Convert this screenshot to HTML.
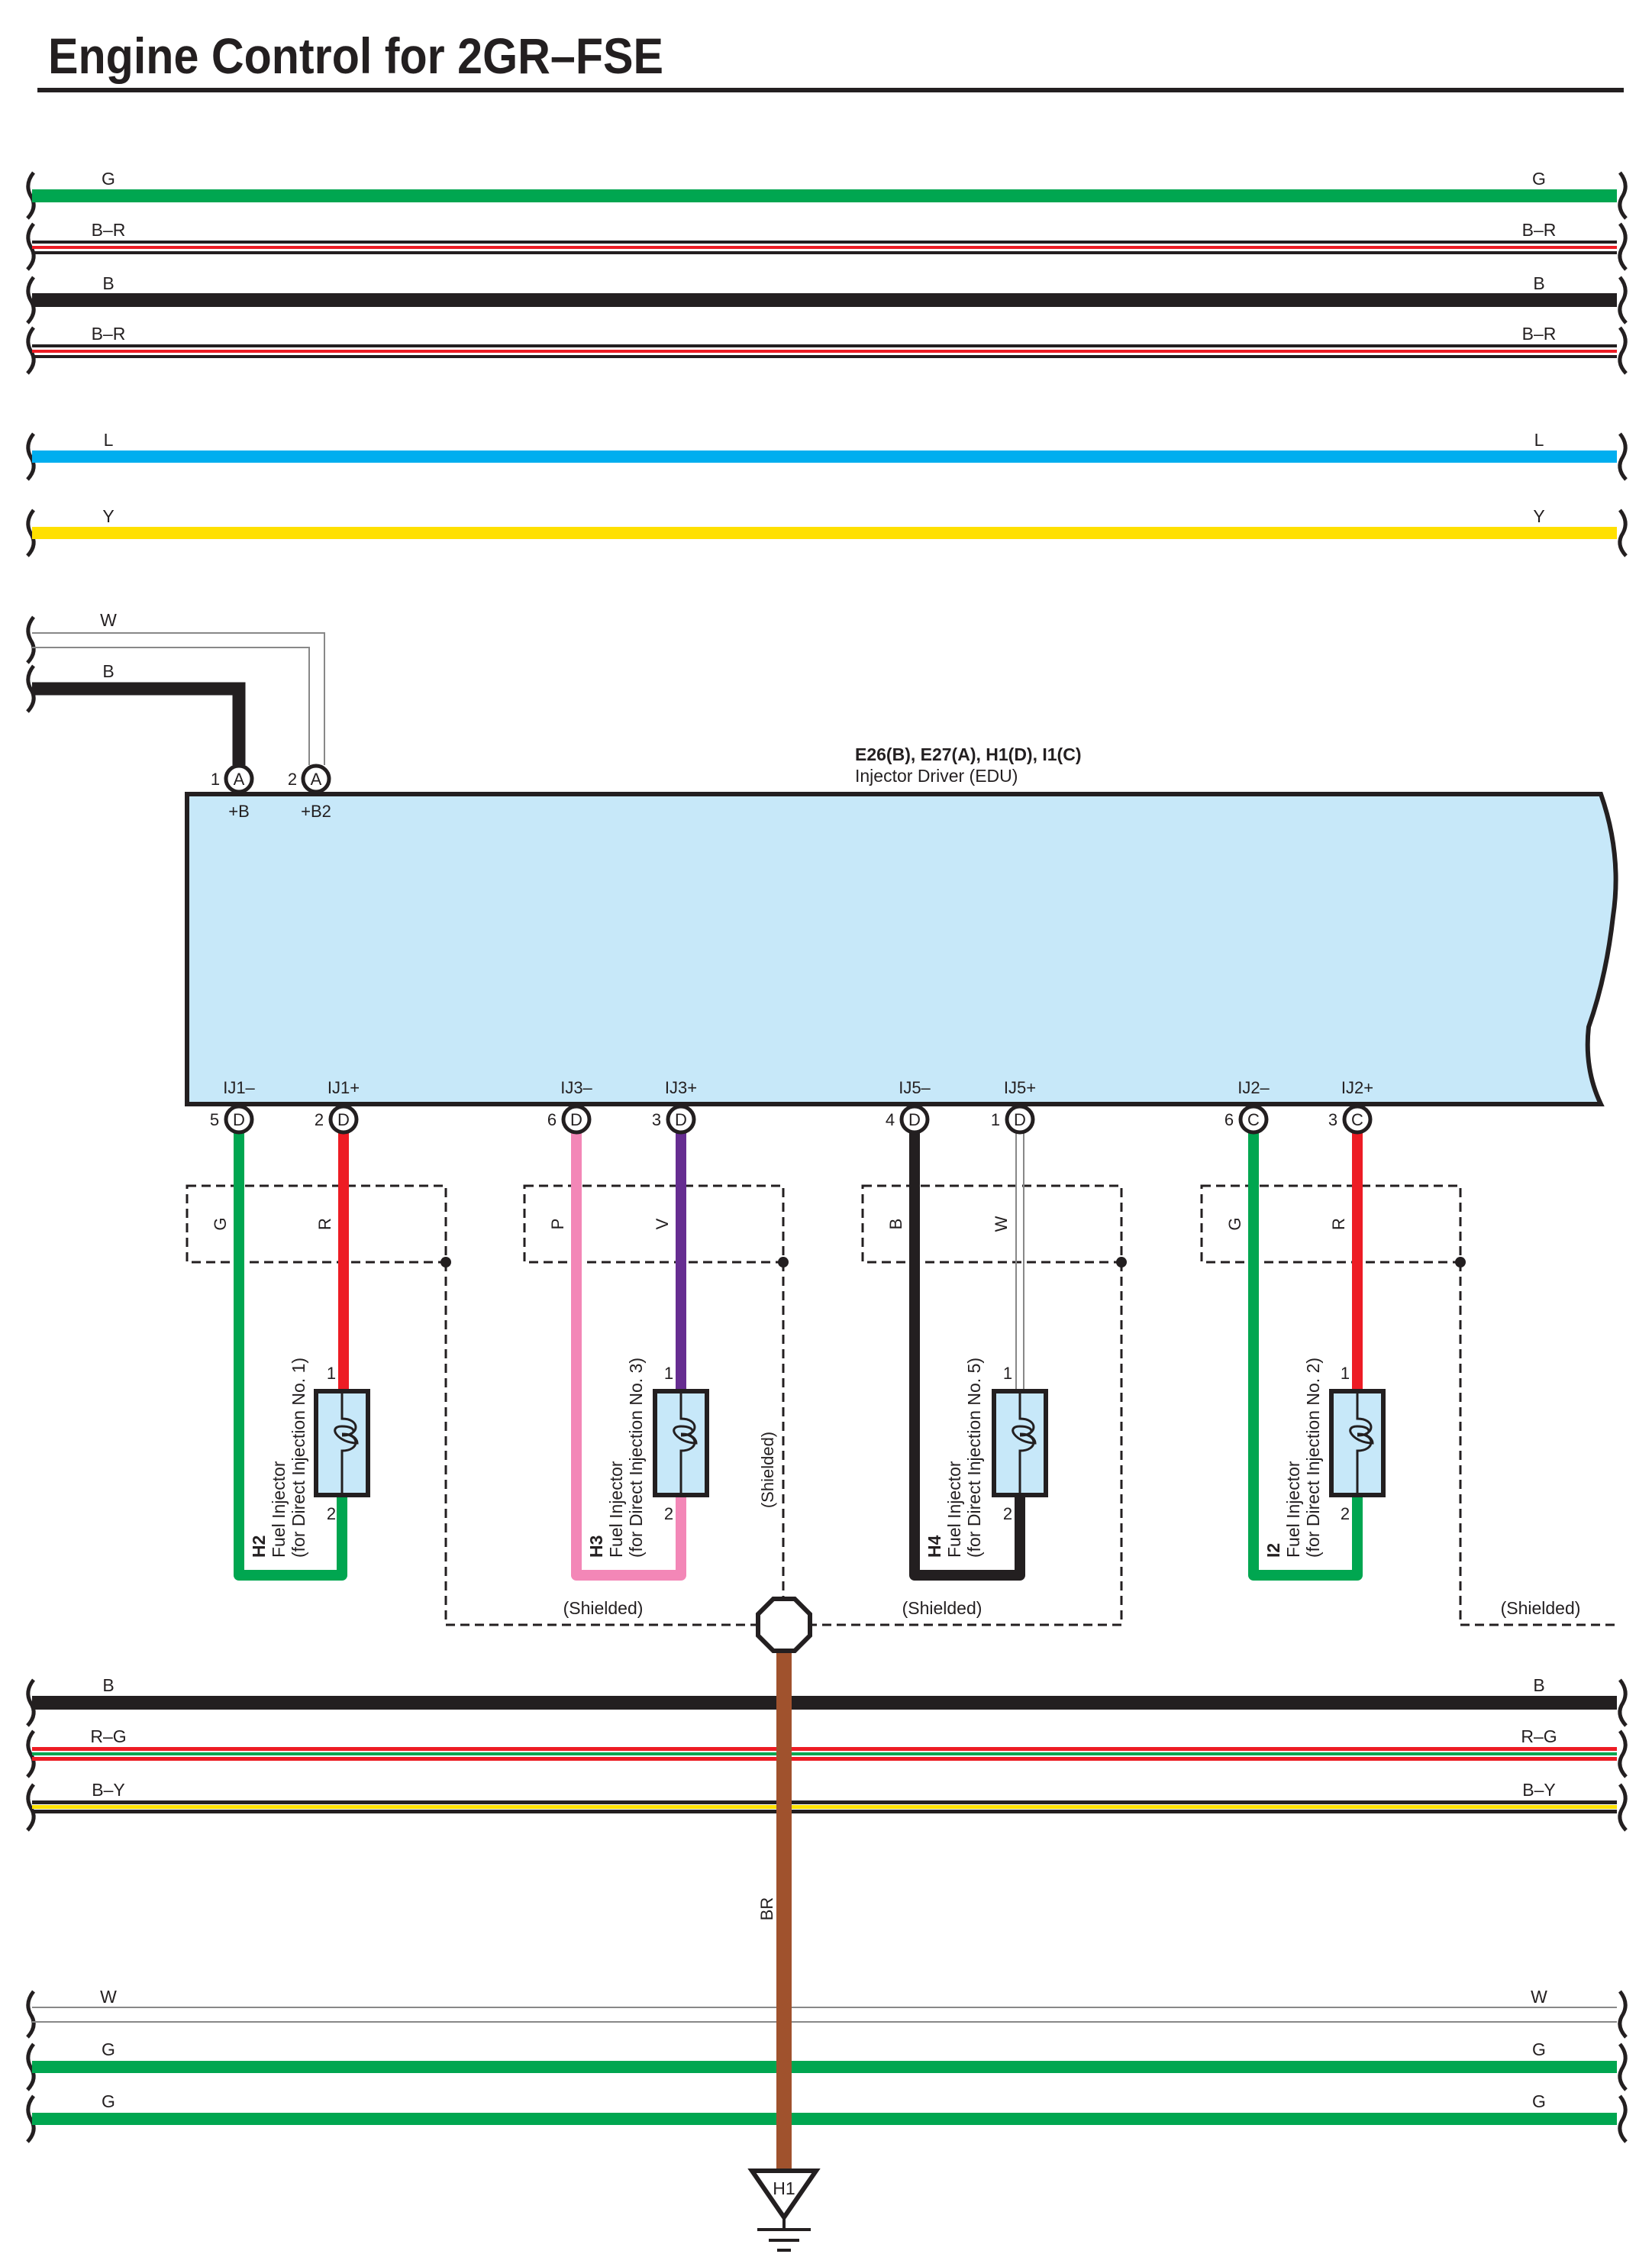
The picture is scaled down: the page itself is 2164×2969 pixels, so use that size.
<!DOCTYPE html>
<html><head><meta charset="utf-8"><style>html,body{margin:0;padding:0;background:#fff}svg{display:block}text{font-family:"Liberation Sans",Arial,sans-serif;fill:#231f20}</style></head><body>
<svg width="2164" height="2969" viewBox="0 0 2164 2969" xmlns="http://www.w3.org/2000/svg">
<text x="63" y="96" font-size="66" font-weight="bold" textLength="806" lengthAdjust="spacingAndGlyphs">Engine Control for 2GR–FSE</text>
<rect x="49" y="115" width="2078" height="6" fill="#231f20"/>
<g id="brk" fill="none" stroke="#231f20" stroke-width="5">
<path d="M44 226 q-12 15 -4 30 q10 15 -4 30"/><path d="M2122 226 q12 15 4 30 q-10 15 4 30"/>
<path d="M44 293 q-12 15 -4 30 q10 15 -4 30"/><path d="M2122 293 q12 15 4 30 q-10 15 4 30"/>
<path d="M44 363 q-12 15 -4 30 q10 15 -4 30"/><path d="M2122 363 q12 15 4 30 q-10 15 4 30"/>
<path d="M44 429 q-12 15 -4 30 q10 15 -4 30"/><path d="M2122 429 q12 15 4 30 q-10 15 4 30"/>
<path d="M44 568 q-12 15 -4 30 q10 15 -4 30"/><path d="M2122 568 q12 15 4 30 q-10 15 4 30"/>
<path d="M44 668 q-12 15 -4 30 q10 15 -4 30"/><path d="M2122 668 q12 15 4 30 q-10 15 4 30"/>
<path d="M44 808 q-12 15 -4 30 q10 15 -4 30"/>
<path d="M44 872 q-12 15 -4 30 q10 15 -4 30"/>
<path d="M44 2200 q-12 15 -4 30 q10 15 -4 30"/><path d="M2122 2200 q12 15 4 30 q-10 15 4 30"/>
<path d="M44 2267 q-12 15 -4 30 q10 15 -4 30"/><path d="M2122 2267 q12 15 4 30 q-10 15 4 30"/>
<path d="M44 2337 q-12 15 -4 30 q10 15 -4 30"/><path d="M2122 2337 q12 15 4 30 q-10 15 4 30"/>
<path d="M44 2608 q-12 15 -4 30 q10 15 -4 30"/><path d="M2122 2608 q12 15 4 30 q-10 15 4 30"/>
<path d="M44 2677 q-12 15 -4 30 q10 15 -4 30"/><path d="M2122 2677 q12 15 4 30 q-10 15 4 30"/>
<path d="M44 2745 q-12 15 -4 30 q10 15 -4 30"/><path d="M2122 2745 q12 15 4 30 q-10 15 4 30"/>
</g>
<!-- top wires -->
<rect x="42" y="248" width="2076" height="17" fill="#00a650"/>
<g><rect x="42" y="315" width="2076" height="4" fill="#231f20"/><rect x="42" y="322" width="2076" height="4" fill="#ed1c24"/><rect x="42" y="329" width="2076" height="4" fill="#231f20"/></g>
<rect x="42" y="384" width="2076" height="18" fill="#231f20"/>
<g><rect x="42" y="451" width="2076" height="4" fill="#231f20"/><rect x="42" y="458" width="2076" height="4" fill="#ed1c24"/><rect x="42" y="465" width="2076" height="4" fill="#231f20"/></g>
<rect x="42" y="590" width="2076" height="16" fill="#00aeef"/>
<rect x="42" y="690" width="2076" height="16" fill="#ffe000"/>
<g font-size="23" text-anchor="middle">
<text x="142" y="242">G</text><text x="2016" y="242">G</text>
<text x="142" y="309">B–R</text><text x="2016" y="309">B–R</text>
<text x="142" y="379">B</text><text x="2016" y="379">B</text>
<text x="142" y="445">B–R</text><text x="2016" y="445">B–R</text>
<text x="142" y="584">L</text><text x="2016" y="584">L</text>
<text x="142" y="684">Y</text><text x="2016" y="684">Y</text>
<text x="142" y="820">W</text><text x="142" y="887">B</text>
</g>
<!-- W and B into EDU -->
<path d="M42 829 H425 V1002 M42 848 H405 V1002" fill="none" stroke="#888" stroke-width="2"/>
<path d="M42 902 H313 V1002" fill="none" stroke="#231f20" stroke-width="17"/>
<!-- EDU -->
<path d="M245 1040 H2097 Q2125 1120 2113 1200 Q2104 1280 2081 1345 Q2075 1400 2097 1446 H245 Z" fill="#c7e8f9" stroke="#231f20" stroke-width="6"/>
<text x="1120" y="996" font-size="23" font-weight="bold">E26(B), E27(A), H1(D), I1(C)</text>
<text x="1120" y="1024" font-size="23">Injector Driver (EDU)</text>
<g font-size="22">
<circle cx="313" cy="1020" r="17" fill="#fff" stroke="#231f20" stroke-width="5"/><text x="313" y="1028" text-anchor="middle">A</text><text x="282" y="1028" text-anchor="middle">1</text><text x="313" y="1070" text-anchor="middle">+B</text>
<circle cx="414" cy="1020" r="17" fill="#fff" stroke="#231f20" stroke-width="5"/><text x="414" y="1028" text-anchor="middle">A</text><text x="383" y="1028" text-anchor="middle">2</text><text x="414" y="1070" text-anchor="middle">+B2</text>
</g>
<!-- shield dashed -->
<g fill="none" stroke="#231f20" stroke-width="3" stroke-dasharray="12,7">
<path d="M245 1553 H584 V1653 H245 Z"/><path d="M584 1653 V2128 H992"/>
<path d="M687 1553 H1026 V1653 H687 Z"/><path d="M1026 1653 V2094"/>
<path d="M1130 1553 H1469 V1653 H1130 Z"/><path d="M1469 1653 V2128 H1062"/>
<path d="M1574 1553 H1913 V1653 H1574 Z"/><path d="M1913 1653 V2128 H2118"/>
</g>
<g fill="#231f20"><circle cx="584" cy="1653" r="7"/><circle cx="1026" cy="1653" r="7"/><circle cx="1469" cy="1653" r="7"/><circle cx="1913" cy="1653" r="7"/></g>
<!-- injector wires -->
<g fill="none" stroke-width="14" stroke-linejoin="round">
<path d="M313 1480 V2063 H448 V1950" stroke="#00a650"/><path d="M450 1480 V1825" stroke="#ed1c24"/>
<path d="M755 1480 V2063 H892 V1950" stroke="#f387b7"/><path d="M892 1480 V1825" stroke="#662d91"/>
<path d="M1198 1480 V2063 H1336 V1950" stroke="#231f20"/>
<path d="M1642 1480 V2063 H1778 V1950" stroke="#00a650"/><path d="M1778 1480 V1825" stroke="#ed1c24"/>
</g>
<path d="M1331 1480 V1825 M1341 1480 V1825" stroke="#888" stroke-width="2"/>
<g id="inj">
</g>
<g stroke="#231f20" fill="#c7e8f9">
<rect x="414" y="1822" width="68" height="136" stroke-width="6"/>
<rect x="858" y="1822" width="68" height="136" stroke-width="6"/>
<rect x="1302" y="1822" width="68" height="136" stroke-width="6"/>
<rect x="1744" y="1822" width="68" height="136" stroke-width="6"/>
</g>
<g fill="none" stroke="#231f20" stroke-width="3">
<path d="M448 1822 V1858 c24 0 24 22 0 22 c20 0 20 -12 0 -12 c-20 0 -5 22 20 22 c0 0 0 -12 -20 -12 c24 0 24 22 0 22 V1958"/>
<path d="M892 1822 V1858 c24 0 24 22 0 22 c20 0 20 -12 0 -12 c-20 0 -5 22 20 22 c0 0 0 -12 -20 -12 c24 0 24 22 0 22 V1958"/>
<path d="M1336 1822 V1858 c24 0 24 22 0 22 c20 0 20 -12 0 -12 c-20 0 -5 22 20 22 c0 0 0 -12 -20 -12 c24 0 24 22 0 22 V1958"/>
<path d="M1778 1822 V1858 c24 0 24 22 0 22 c20 0 20 -12 0 -12 c-20 0 -5 22 20 22 c0 0 0 -12 -20 -12 c24 0 24 22 0 22 V1958"/>
</g>
<!-- bottom connectors -->
<g font-size="22" text-anchor="middle">
<text x="313" y="1432">IJ1–</text><text x="450" y="1432">IJ1+</text><text x="755" y="1432">IJ3–</text><text x="892" y="1432">IJ3+</text>
<text x="1198" y="1432">IJ5–</text><text x="1336" y="1432">IJ5+</text><text x="1642" y="1432">IJ2–</text><text x="1778" y="1432">IJ2+</text>
<g fill="#fff" stroke="#231f20" stroke-width="5">
<circle cx="313" cy="1466" r="17"/><circle cx="450" cy="1466" r="17"/><circle cx="755" cy="1466" r="17"/><circle cx="892" cy="1466" r="17"/>
<circle cx="1198" cy="1466" r="17"/><circle cx="1336" cy="1466" r="17"/><circle cx="1642" cy="1466" r="17"/><circle cx="1778" cy="1466" r="17"/>
</g>
<text x="313" y="1474">D</text><text x="450" y="1474">D</text><text x="755" y="1474">D</text><text x="892" y="1474">D</text>
<text x="1198" y="1474">D</text><text x="1336" y="1474">D</text><text x="1642" y="1474">C</text><text x="1778" y="1474">C</text>
<text x="281" y="1474">5</text><text x="418" y="1474">2</text><text x="723" y="1474">6</text><text x="860" y="1474">3</text>
<text x="1166" y="1474">4</text><text x="1304" y="1474">1</text><text x="1610" y="1474">6</text><text x="1746" y="1474">3</text>
<text x="434" y="1806">1</text><text x="434" y="1990">2</text><text x="876" y="1806">1</text><text x="876" y="1990">2</text>
<text x="1320" y="1806">1</text><text x="1320" y="1990">2</text><text x="1762" y="1806">1</text><text x="1762" y="1990">2</text>
</g>
<g font-size="22" text-anchor="middle">
<text transform="translate(296,1603) rotate(-90)">G</text><text transform="translate(433,1603) rotate(-90)">R</text>
<text transform="translate(738,1603) rotate(-90)">P</text><text transform="translate(875,1603) rotate(-90)">V</text>
<text transform="translate(1181,1603) rotate(-90)">B</text><text transform="translate(1319,1603) rotate(-90)">W</text>
<text transform="translate(1625,1603) rotate(-90)">G</text><text transform="translate(1761,1603) rotate(-90)">R</text>
<text transform="translate(1013,1925) rotate(-90)">(Shielded)</text>
</g>
<g font-size="23">
<g transform="translate(347,2040) rotate(-90)"><text x="0" y="0" font-weight="bold">H2</text><text x="0" y="26">Fuel Injector</text><text x="0" y="52">(for Direct Injection No. 1)</text></g>
<g transform="translate(789,2040) rotate(-90)"><text x="0" y="0" font-weight="bold">H3</text><text x="0" y="26">Fuel Injector</text><text x="0" y="52">(for Direct Injection No. 3)</text></g>
<g transform="translate(1232,2040) rotate(-90)"><text x="0" y="0" font-weight="bold">H4</text><text x="0" y="26">Fuel Injector</text><text x="0" y="52">(for Direct Injection No. 5)</text></g>
<g transform="translate(1676,2040) rotate(-90)"><text x="0" y="0" font-weight="bold">I2</text><text x="0" y="26">Fuel Injector</text><text x="0" y="52">(for Direct Injection No. 2)</text></g>
</g>
<g font-size="23" text-anchor="middle"><text x="790" y="2114">(Shielded)</text><text x="1234" y="2114">(Shielded)</text><text x="2018" y="2114">(Shielded)</text></g>
<!-- bottom wires -->
<rect x="42" y="2221" width="2076" height="18" fill="#231f20"/>
<g><rect x="42" y="2288" width="2076" height="5" fill="#ed1c24"/><rect x="42" y="2295" width="2076" height="4" fill="#00a650"/><rect x="42" y="2301" width="2076" height="5" fill="#ed1c24"/></g>
<g><rect x="42" y="2358" width="2076" height="5" fill="#231f20"/><rect x="42" y="2364" width="2076" height="5" fill="#ffe000"/><rect x="42" y="2370" width="2076" height="5" fill="#231f20"/></g>
<path d="M42 2629 H2118 M42 2648 H2118" stroke="#888" stroke-width="2"/>
<rect x="42" y="2699" width="2076" height="16" fill="#00a650"/>
<rect x="42" y="2767" width="2076" height="16" fill="#00a650"/>
<g font-size="23" text-anchor="middle">
<text x="142" y="2215">B</text><text x="2016" y="2215">B</text>
<text x="142" y="2282">R–G</text><text x="2016" y="2282">R–G</text>
<text x="142" y="2352">B–Y</text><text x="2016" y="2352">B–Y</text>
<text x="142" y="2623">W</text><text x="2016" y="2623">W</text>
<text x="142" y="2692">G</text><text x="2016" y="2692">G</text>
<text x="142" y="2760">G</text><text x="2016" y="2760">G</text>
</g>
<!-- ground -->
<rect x="1017" y="2160" width="20" height="684" fill="#a0522d"/>
<polygon points="1013,2094 1041,2094 1061,2114 1061,2142 1041,2162 1013,2162 993,2142 993,2114" fill="#fff" stroke="#231f20" stroke-width="6"/>
<text transform="translate(1012,2500) rotate(-90)" font-size="22" text-anchor="middle">BR</text>
<polygon points="985,2843 1069,2843 1027,2904" fill="#fff" stroke="#231f20" stroke-width="6"/>
<text x="1027" y="2874" font-size="23" text-anchor="middle">H1</text>
<path d="M1027 2904 V2920 M992 2920 H1062 M1007 2934 H1047 M1018 2947 H1036" stroke="#231f20" stroke-width="4"/>
</svg>
</body></html>
